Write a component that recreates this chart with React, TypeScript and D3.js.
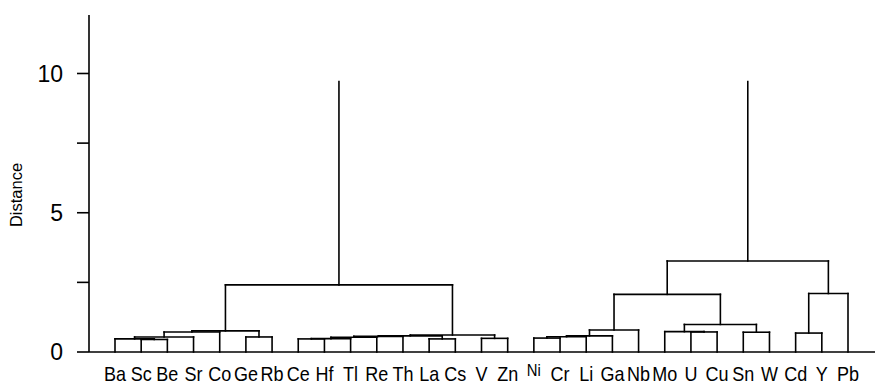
import React from 'react';
import * as d3 from 'd3';

// leaf order as it appears along the bottom
const leaves = [
  'Ba', 'Sc', 'Be', 'Sr', 'Co', 'Ge', 'Rb', 'Ce', 'Hf', 'Tl', 'Re', 'Th', 'La', 'Cs', 'V',
  'Zn', 'Ni', 'Cr', 'Li', 'Ga', 'Nb', 'Mo', 'U', 'Cu', 'Sn', 'W', 'Cd', 'Y', 'Pb',
];

// linkage: [left, right, distance]; ids < leaves.length are leaves, others are earlier merges
const merges: [number, number, number][] = [
  [1, 2, 0.45],
  [0, 29, 0.47],
  [30, 3, 0.54],
  [31, 4, 0.72],
  [5, 6, 0.54],
  [32, 33, 0.76],
  [7, 8, 0.47],
  [35, 9, 0.48],
  [36, 10, 0.53],
  [37, 11, 0.56],
  [12, 13, 0.47],
  [38, 39, 0.58],
  [14, 15, 0.49],
  [40, 41, 0.61],
  [34, 42, 2.41],
  [16, 17, 0.5],
  [44, 18, 0.55],
  [45, 19, 0.58],
  [46, 20, 0.79],
  [22, 23, 0.72],
  [21, 48, 0.73],
  [24, 25, 0.71],
  [49, 50, 0.99],
  [47, 51, 2.07],
  [26, 27, 0.68],
  [53, 28, 2.1],
  [52, 54, 3.27],
  [43, 55, 9.71],
];

const yTicks = [0, 2.5, 5, 7.5, 10];
const yTickLabels = [0, 5, 10];
const raisedLabels = ['Ni'];

type TreeNode = { id: number; name?: string; dist: number; children?: TreeNode[] };

function buildTree(): TreeNode {
  const nodes: TreeNode[] = leaves.map((name, i) => ({ id: i, name, dist: 0 }));
  merges.forEach(([a, b, d], k) => {
    nodes.push({ id: leaves.length + k, dist: d, children: [nodes[a], nodes[b]] });
  });
  return nodes[nodes.length - 1];
}

export default function App() {
  const width = 875;
  const height = 387;
  const axisX = 89;
  const baseY = 352;

  const xScale = d3.scalePoint<string>().domain(leaves).range([115, 848]);
  const yScale = d3.scaleLinear().domain([0, 12.1]).range([baseY, 15]);

  const root = d3.hierarchy(buildTree());
  const xs = new Map<number, number>();
  root.eachAfter(n => {
    if (!n.children) xs.set(n.data.id, xScale(n.data.name!)!);
    else xs.set(n.data.id, d3.mean(n.children, c => xs.get(c.data.id)!)!);
  });

  const segs: { x1: number; y1: number; x2: number; y2: number }[] = [];
  root.each(n => {
    const x = xs.get(n.data.id)!;
    // the top merge is drawn with its two stems only
    if (n.children && n !== root) {
      const [a, b] = n.children;
      segs.push({ x1: xs.get(a.data.id)!, x2: xs.get(b.data.id)!, y1: yScale(n.data.dist), y2: yScale(n.data.dist) });
    }
    if (n.parent) {
      segs.push({ x1: x, x2: x, y1: yScale(n.data.dist), y2: yScale(n.parent.data.dist) });
    }
  });

  const font = '"Liberation Sans", Arial, sans-serif';

  return (
    <svg width={width} height={height} style={{ position: 'absolute', left: 0, top: 0, background: '#fff' }} fontFamily={font}>
      {/* y axis */}
      <line x1={axisX} x2={axisX} y1={yScale(12.1)} y2={baseY} stroke="#000" strokeWidth={1.6} />
      {yTicks.map(t => (
        <line key={t} x1={axisX - 12} x2={axisX} y1={yScale(t)} y2={yScale(t)} stroke="#000" strokeWidth={1.6} />
      ))}
      {yTickLabels.map(t => (
        <text key={t} x={63} y={yScale(t)} dy="0.36em" textAnchor="end" fontSize={23} fill="#000">{t}</text>
      ))}
      <text transform={`translate(22,195) rotate(-90)`} textAnchor="middle" fontSize={16.5} fill="#000">Distance</text>

      {/* baseline */}
      <line x1={axisX} x2={width} y1={baseY} y2={baseY} stroke="#000" strokeWidth={1.6} />

      {/* dendrogram */}
      {segs.map((s, i) => (
        <line key={i} x1={s.x1} x2={s.x2} y1={s.y1} y2={s.y2} stroke="#000" strokeWidth={1.6} strokeLinecap="square" />
      ))}

      {/* leaf labels */}
      {leaves.map(l => {
        const raised = raisedLabels.includes(l);
        return (
          <text
            key={l}
            transform={`translate(${xScale(l)},${raised ? 376 : 380.5}) scale(0.9,1)`}
            textAnchor="middle"
            fontSize={raised ? 16.5 : 20}
            fill="#000"
          >
            {l}
          </text>
        );
      })}
    </svg>
  );
}
